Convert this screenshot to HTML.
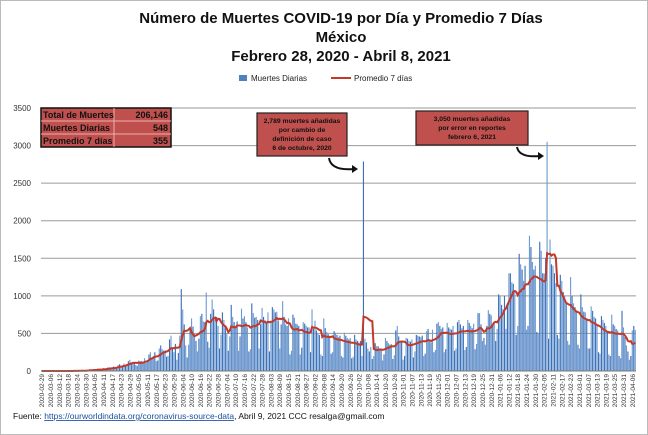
<!DOCTYPE html>
<html><head><meta charset="utf-8"><style>
body{margin:0;background:#fff;font-family:"Liberation Sans",sans-serif}
#wrap{position:relative;width:646px;height:433px;border:1px solid #bbb;overflow:hidden}
</style></head><body>
<div id="wrap">
<svg id="chart" width="646" height="433" font-family="Liberation Sans, sans-serif"></svg>
</div>
<script>
const startDate = "2020-02-29";
const yTicks = [0,500,1000,1500,2000,2500,3000,3500];
const daily = [
0,0,0,0,0,0,0, 0,0,0,0,0,0,0, 0,0,0,1,1,0,1, 1,2,1,3,4,4,5, 6,4,4,12,14,16,14,
20,10,9,29,31,20,25, 35,18,16,46,50,40,42, 60,30,40,80,90,65,60, 100,60,90,130,150,105,120,
100,80,70,140,130,135,120, 170,110,120,220,250,180,200, 250,130,140,300,340,290,270,
280,190,200,420,470,300,250, 360,150,240,470,1090,820,620, 340,180,350,590,700,590,500,
400,260,430,730,760,660,650, 1045,390,310,760,950,820,700, 720,600,300,480,780,680,600,
500,270,460,880,720,650,600, 660,270,460,830,700,730,650, 580,260,290,900,770,710,720,
680,300,620,840,720,680,650, 780,260,660,850,820,780,790, 670,300,620,930,720,620,600,
700,220,270,750,710,630,620, 600,220,310,650,630,600,580, 580,250,820,560,670,540,500,
480,220,200,700,570,520,490, 470,230,250,530,510,480,450, 470,200,180,510,470,440,420,
440,170,190,480,420,400,380, 400,200,2789,430,380,300,260, 320,160,200,370,330,330,300,
300,140,220,440,400,370,350, 360,160,210,540,600,460,400, 380,150,200,440,430,400,390,
420,180,260,480,470,460,450, 470,200,230,530,560,420,380, 550,250,280,630,650,600,560,
580,250,290,640,580,560,550, 600,270,300,650,680,620,570, 600,280,320,680,640,600,570,
630,290,360,770,770,620,400, 440,350,600,810,760,740,620, 650,400,560,1020,1000,880,820,
1000,560,900,1300,1300,1180,1160, 1050,480,600,1560,1420,1350,1200, 1400,550,600,1800,1650,1450,1350,
1400,520,500,1720,1600,1300,1300, 1500,3050,430,1750,1420,1400,1300, 1170,480,430,1280,1200,1050,1000,
900,400,350,1250,1000,900,850, 780,350,300,1020,850,790,780, 700,300,300,860,800,720,700,
600,250,230,730,680,640,600, 520,220,200,750,620,600,560, 540,200,170,800,580,450,340,
260,150,200,540,600,548];
const tableRows = [["Total de Muertes","206,146"],["Muertes Diarias","548"],["Promedio 7 días","355"]];

const NS="http://www.w3.org/2000/svg", svg=document.getElementById('chart');
function el(t,a,p){const e=document.createElementNS(NS,t);for(const k in a)e.setAttribute(k,a[k]);(p||svg).appendChild(e);return e;}
const X0=40,X1=635,Y0=370,Y1=107,YMAX=3500;
const n=daily.length, bw=(X1-X0)/n;
const y=v=>Y0-(v/YMAX)*(Y0-Y1);
const x=i=>X0+i*bw;

// titles
[["Número de Muertes COVID-19 por Día y Promedio 7 Días",22],["México",41],["Febrero 28, 2020 - Abril 8, 2021",60]].forEach((t,i)=>{
 const e=el('text',{x:340,y:t[1],'text-anchor':'middle','font-size':15,'font-weight':'bold',fill:'#111'});e.textContent=t[0];
 
 
});
// legend
let lg=el('g',{});


el('rect',{x:238,y:74,width:8,height:6,fill:'#4f81bd'},lg);
let lt=el('text',{x:250,y:80,'font-size':8,fill:'#222'},lg);lt.textContent='Muertes Diarias';
el('line',{x1:330,y1:77,x2:350,y2:77,stroke:'#c0392b','stroke-width':2},lg);
lt=el('text',{x:353,y:80,'font-size':8,fill:'#222'},lg);lt.textContent='Promedio 7 días';

// grid + y labels
yTicks.forEach(v=>{
 const g=el('line',{x1:X0,x2:X1,y1:y(v),y2:y(v),stroke:'#9a9a9a','stroke-width':1});
 
 
 const t=el('text',{x:30,y:y(v)+3,'text-anchor':'end','font-size':8,fill:'#333'});t.textContent=v;
 
 
});
// bars
daily.forEach((v,i)=>{
 const b=el('rect',{x:x(i)+0.15,y:y(v),width:Math.max(bw-0.35,0.8),height:Y0-y(v),fill:i%2?'#3b6fb6':'#6d9bd3'});
 
 
});
// 7-day average
let pts=[];
daily.forEach((v,i)=>{const s=daily.slice(Math.max(0,i-6),i+1);const a=s.reduce((p,c)=>p+c,0)/s.length;pts.push(`${(x(i)+bw/2).toFixed(1)},${y(a).toFixed(1)}`);});
const ln=el('polyline',{points:pts.join(' '),fill:'none',stroke:'#c0392b','stroke-width':2});


// axis
el('line',{x1:X0,x2:X1,y1:Y0,y2:Y0,stroke:'#777'});
// x labels
const d0=new Date(startDate+"T00:00:00Z");
for(let i=0;i<n;i+=6){
 const d=new Date(d0.getTime()+i*864e5);const s=d.toISOString().slice(0,10);
 const t=el('text',{transform:`translate(${(x(i)+bw/2+2.5).toFixed(1)},373) rotate(-90)`,'text-anchor':'end','font-size':6.5,fill:'#333'});t.textContent=s;
 
 
}
// info table
let tb=el('g',{});


el('rect',{x:40,y:107,width:130,height:39,fill:'#c0504d',stroke:'#111','stroke-width':1.5},tb);
tableRows.forEach((r,i)=>{
 const yy=107+i*13;
 if(i>0)el('line',{x1:40,x2:170,y1:yy,y2:yy,stroke:'#e8b0ae'},tb);
 let a=el('text',{x:42,y:yy+10,'font-size':9,'font-weight':'bold',fill:'#111'},tb);a.textContent=r[0];
 let b=el('text',{x:167,y:yy+10,'font-size':9,'font-weight':'bold','text-anchor':'end',fill:'#111'},tb);b.textContent=r[1];
});
el('line',{x1:113,x2:113,y1:107,y2:146,stroke:'#e8b0ae'},tb);
// annotations
function note(name,bx,by,w,h,lines,ax,ay,ex,ey){
 const g=el('g',{});
 
 
 el('rect',{x:bx,y:by,width:w,height:h,fill:'#c0504d',stroke:'#222','stroke-width':1.2},g);
 lines.forEach((l,i)=>{const t=el('text',{x:bx+w/2,y:by+10+i*9,'text-anchor':'middle','font-size':6.8,'font-weight':'bold',fill:'#111'},g);t.textContent=l;});
 el('path',{d:`M${ax},${ay} Q${ax+2},${ey+2} ${ex-4},${ey}`,fill:'none',stroke:'#111','stroke-width':2},g);
 el('path',{d:`M${ex-6},${ey-4} L${ex},${ey} L${ex-6},${ey+4}Z`,fill:'#111'},g);
}
note('annotation-oct-2020',256,112,90,43,["2,789 muertes  añadidas","por cambio de","definición de caso","6 de octubre,  2020"],328,157,357,168);
note('annotation-feb-2021',415,110,112,34,["3,050 muertes  añadidas","por error en reportes","febrero  6, 2021"],516,146,543,155);
// source
const src=el('text',{x:12,y:418,'font-size':8.5,fill:'#111'});


src.innerHTML='Fuente: <tspan fill="#1a4fa0" text-decoration="underline">https://ourworldindata.org/coronavirus-source-data</tspan>,  Abril 9, 2021     CCC   resalga@gmail.com';
</script>
</body></html>
